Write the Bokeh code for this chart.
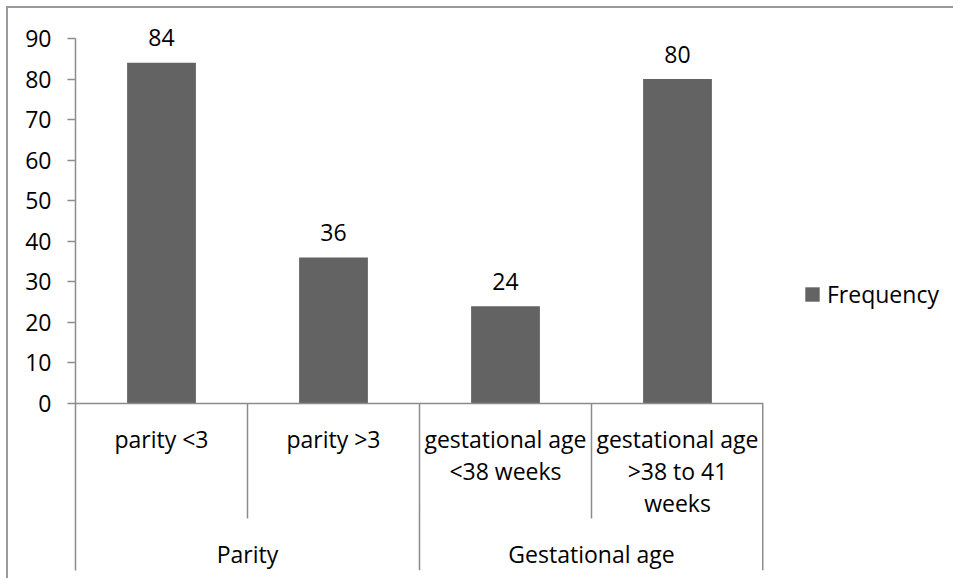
from bokeh.plotting import figure
from bokeh.layouts import row
from bokeh.models import (ColumnDataSource, FactorRange, LinearAxis, FixedTicker,
                          Span, LabelSet, Legend, LegendItem, Range1d)
from bokeh.core.properties import value
from bokeh.embed import file_html
from bokeh.resources import INLINE

# ---------------- data ----------------
groups = ["Parity", "Parity", "Gestational age", "Gestational age"]
categories = ["parity <3", "parity >3",
              "gestational age <38 weeks", "gestational age >38 to 41 weeks"]
category_labels = ["parity <3", "parity >3",
                   "gestational age\n<38 weeks", "gestational age\n>38 to 41\nweeks"]
group_names = ["Parity", "Gestational age"]
frequency = [84, 36, 24, 80]
y_ticks = [0, 10, 20, 30, 40, 50, 60, 70, 80, 90]
series_name = "Frequency"

# ---------------- layout ----------------
W_TOTAL, H = 945, 570
MB_LEFT, MB_RIGHT, MB_TOP, MB_BOTTOM = 67, 2, 2, 8
W = MB_LEFT + 688 + MB_RIGHT     # main chart (frame 688 px wide)
W_LEG = W_TOTAL - W              # legend strip
Y_MAX_TICK = 90
PX_PER_UNIT = 365 / 90.0        # vertical scale
ZERO_PX = 395                   # canvas y of value 0
TOP_PX = 30                     # canvas y of value 90
FRAME_TOP = MB_TOP
FRAME_BOTTOM = H - MB_BOTTOM
y_hi = Y_MAX_TICK + (TOP_PX - FRAME_TOP) / PX_PER_UNIT
y_lo = -(FRAME_BOTTOM - ZERO_PX) / PX_PER_UNIT
inner_depth = -115 / PX_PER_UNIT
LABEL_FIRST = -35               # px below the axis (centre of first label line)
LABEL_STEP = 32                 # px between label lines
GROUP_OFF = -150

FONT = "Open Sans"
FS = "23px"
AXIS_GRAY = "#8c8c8c"
BAR_COLOR = "#636363"

factors = list(zip(groups, categories))

p = figure(width=W, height=H, output_backend="svg", toolbar_location=None,
           x_range=FactorRange(*factors, factor_padding=0, group_padding=0,
                               subgroup_padding=0, range_padding=0),
           y_range=Range1d(y_lo, y_hi),
           x_axis_location=None, y_axis_location=None,
           min_border_left=MB_LEFT, min_border_right=MB_RIGHT,
           min_border_top=MB_TOP, min_border_bottom=MB_BOTTOM)
p.outline_line_color = None
p.xgrid.visible = False
p.ygrid.visible = False
p.background_fill_color = "white"
p.border_fill_color = "white"

# y axis (line continues down as the left category divider)
yax = LinearAxis(bounds=(y_lo, Y_MAX_TICK), ticker=FixedTicker(ticks=y_ticks))
yax.axis_line_color = AXIS_GRAY
yax.axis_line_width = 1.5
yax.major_tick_line_color = AXIS_GRAY
yax.major_tick_line_width = 1.5
yax.major_tick_out = 8
yax.major_tick_in = 0
yax.minor_tick_line_color = None
yax.major_label_text_font = FONT
yax.major_label_text_font_size = FS
yax.major_label_text_color = "black"
yax.major_label_standoff = 16
p.add_layout(yax, "left")

# horizontal axis line at 0
p.add_layout(Span(location=0, dimension="width", line_color=AXIS_GRAY, line_width=1.5))

# bars
src = ColumnDataSource(dict(x=factors, top=frequency, lab=[str(v) for v in frequency]))
bars = p.vbar(x="x", top="top", width=0.4, source=src, fill_color=BAR_COLOR,
              line_color=None)

# value labels
p.add_layout(LabelSet(x="x", y="top", text="lab", source=src, y_offset=25,
                      text_align="center", text_baseline="middle",
                      text_font=value(FONT), text_font_size=value(FS),
                      text_color="black"))

# category dividers (inner ones short, group boundaries long)
sx, sy0, sy1, sw = [], [], [], []
for i in range(1, len(factors)):
    sx.append((groups[i], categories[i], -0.5))
    sy0.append(0)
    sy1.append(y_lo if groups[i] != groups[i - 1] else inner_depth)
    sw.append(1.5)
# right end divider sits on the frame edge (half is clipped)
sx.append((groups[-1], categories[-1], 0.5))
sy0.append(0)
sy1.append(y_lo)
sw.append(3)
p.segment(x0="x", y0="y0", x1="x", y1="y1", line_width="w",
          source=ColumnDataSource(dict(x=sx, y0=sy0, y1=sy1, w=sw)),
          line_color=AXIS_GRAY)

# category labels, one row per text line so each line is centred
lx, lt, lo = [], [], []
for f, lab in zip(factors, category_labels):
    for j, line in enumerate(lab.split("\n")):
        lx.append(f)
        lt.append(line)
        lo.append(LABEL_FIRST - LABEL_STEP * j)
csrc = ColumnDataSource(dict(x=lx, lab=lt, off=lo))
p.add_layout(LabelSet(x="x", y=0, text="lab", source=csrc, y_offset="off",
                      text_align="center", text_baseline="middle",
                      text_font=value(FONT), text_font_size=value(FS),
                      text_color="black"))

# group labels
gsrc = ColumnDataSource(dict(x=group_names, lab=group_names))
p.add_layout(LabelSet(x="x", y=0, text="lab", source=gsrc, y_offset=GROUP_OFF,
                      text_align="center", text_baseline="middle",
                      text_font=value(FONT), text_font_size=value(FS),
                      text_color="black"))

# ---------------- legend strip ----------------
pl = figure(width=W_LEG, height=H, output_backend="svg", toolbar_location=None,
            x_range=p.x_range, y_range=Range1d(0, 1),
            x_axis_location=None, y_axis_location=None,
            min_border_left=0, min_border_right=0,
            min_border_top=0, min_border_bottom=0)
pl.outline_line_color = None
pl.xgrid.visible = False
pl.ygrid.visible = False
pl.border_fill_color = "white"
# hidden proxy of the bar series, used only for the legend swatch
leg_r = pl.vbar(x="x", top="top", width=0.4, source=src,
                fill_color=BAR_COLOR, line_color=None, visible=False)
legend = Legend(items=[LegendItem(label=series_name, renderers=[leg_r])],
                location=(38, 260), orientation="vertical",
                glyph_width=18, glyph_height=18, label_standoff=6,
                margin=0, padding=0, spacing=0,
                inactive_fill_alpha=0,
                border_line_color=None, background_fill_alpha=0,
                label_text_font=FONT, label_text_font_size=FS,
                label_text_color="black")
pl.add_layout(legend, "center")

layout = row(p, pl)
layout.styles = {"border-top": "2px solid #9a9a9a", "border-left": "2px solid #9a9a9a",
                 "margin-left": "6px", "margin-top": "6px"}

open("out.html", "w").write(file_html(layout, INLINE))
